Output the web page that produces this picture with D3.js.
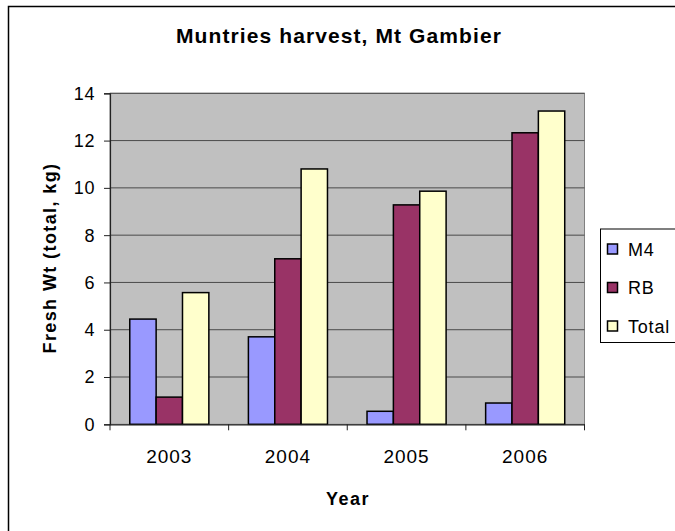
<!DOCTYPE html>
<html>
<head>
<meta charset="utf-8">
<script src="https://cdn.jsdelivr.net/npm/d3@7"></script>
<style>
  html, body { margin: 0; padding: 0; background: #fff; overflow: hidden; }
  svg { display: block; font-family: Arial, "Liberation Sans", sans-serif; }
</style>
</head>
<body>
<svg id="chart" width="675" height="531"></svg>
<script>
const years = ["2003", "2004", "2005", "2006"];
const seriesNames = ["M4", "RB", "Total"];
const m4Values = [4.45, 3.7, 0.55, 0.9];
const rbValues = [1.15, 7.0, 9.28, 12.33];
const totalValues = [5.57, 10.8, 9.86, 13.25];
const yTicks = [0, 2, 4, 6, 8, 10, 12, 14];
const titleText = "Muntries harvest, Mt Gambier";
const xTitle = "Year";
const yTitle = "Fresh Wt (total, kg)";
const seriesColors = ["#9999FF", "#993366", "#FFFFCC"];

const seriesValues = [m4Values, rbValues, totalValues];

const svg = d3.select("#chart");
const plot = { left: 110, right: 584.5, top: 93.3, bottom: 424.3 };

// outer chart border (extends past right/bottom edge)
svg.append("rect")
  .attr("x", 8.5).attr("y", 6.5)
  .attr("width", 700).attr("height", 560)
  .attr("fill", "#fff").attr("stroke", "#000").attr("stroke-width", 1.5);

const y = d3.scaleLinear().domain([0, 14]).range([plot.bottom, plot.top]);
const x0 = d3.scaleBand().domain(years).range([plot.left, plot.right])
  .paddingInner(1/3).paddingOuter(1/6);
const x1 = d3.scaleBand().domain(seriesNames).range([0, x0.bandwidth()]).padding(0);
const color = d3.scaleOrdinal().domain(seriesNames).range(seriesColors);

// plot area
svg.append("rect")
  .attr("x", plot.left).attr("y", plot.top)
  .attr("width", plot.right - plot.left).attr("height", plot.bottom - plot.top)
  .attr("fill", "#C0C0C0").attr("stroke", "#808080").attr("stroke-width", 1);

// gridlines
svg.append("g").selectAll("line").data(yTicks.filter(d => d > 0)).join("line")
  .attr("x1", plot.left).attr("x2", plot.right)
  .attr("y1", d => y(d)).attr("y2", d => y(d))
  .attr("stroke", "#4a4a4a").attr("stroke-width", 1);

// bars
const rows = years.map((yr, i) => ({ year: yr, values: seriesNames.map((s, j) => ({ key: s, value: seriesValues[j][i] })) }));
svg.append("g").selectAll("g").data(rows).join("g")
  .attr("transform", d => `translate(${x0(d.year)},0)`)
  .selectAll("rect").data(d => d.values).join("rect")
  .attr("x", d => x1(d.key))
  .attr("y", d => y(d.value))
  .attr("width", x1.bandwidth())
  .attr("height", d => y(0) - y(d.value))
  .attr("fill", d => color(d.key))
  .attr("stroke", "#000").attr("stroke-width", 1.5);

// y axis
const yAxis = svg.append("g")
  .attr("transform", `translate(${plot.left},0)`)
  .call(d3.axisLeft(y).tickValues(yTicks).tickSize(6).tickPadding(9).tickFormat(d3.format("d")));
yAxis.select(".domain").attr("stroke", "#222").attr("stroke-width", 1.2);
yAxis.selectAll(".tick line").attr("stroke", "#222");
yAxis.selectAll(".tick text")
  .attr("font-size", 18).attr("fill", "#000")
  .attr("font-family", "Arial, 'Liberation Sans', sans-serif")
  .style("letter-spacing", "0.6px")
  .attr("dy", "0.33em");

// x axis
const xAxis = svg.append("g")
  .attr("transform", `translate(0,${plot.bottom})`)
  .call(d3.axisBottom(x0).tickSize(0).tickPadding(39));
xAxis.select(".domain").attr("stroke", "#222").attr("stroke-width", 1.2);
xAxis.selectAll(".tick text")
  .attr("font-size", 19).attr("fill", "#000")
  .attr("font-family", "Arial, 'Liberation Sans', sans-serif")
  .style("letter-spacing", "1px")
  .attr("dy", 0);
// category boundary ticks
const bounds = d3.range(years.length + 1).map(i => plot.left + (plot.right - plot.left) * i / years.length);
xAxis.append("g").selectAll("line").data(bounds).join("line")
  .attr("x1", d => d).attr("x2", d => d)
  .attr("y1", 0).attr("y2", 6)
  .attr("stroke", "#222");

// title
svg.append("text")
  .attr("x", 339).attr("y", 43)
  .attr("text-anchor", "middle")
  .attr("font-size", 21).attr("font-weight", "bold")
  .style("letter-spacing", "1.1px")
  .text(titleText);

// axis titles
svg.append("text")
  .attr("x", 348).attr("y", 505)
  .attr("text-anchor", "middle")
  .attr("font-size", 18).attr("font-weight", "bold")
  .style("letter-spacing", "1.5px")
  .text(xTitle);

svg.append("text")
  .attr("transform", "translate(55.5,258) rotate(-90)")
  .attr("text-anchor", "middle")
  .attr("font-size", 18).attr("font-weight", "bold")
  .style("letter-spacing", "1.4px")
  .text(yTitle);

// legend
const legend = svg.append("g");
legend.append("rect")
  .attr("x", 600.5).attr("y", 229)
  .attr("width", 100).attr("height", 113.5)
  .attr("fill", "#fff").attr("stroke", "#000").attr("stroke-width", 1);
const legendY = d3.scalePoint().domain(seriesNames).range([249, 326]);
const items = legend.selectAll("g.item").data(seriesNames).join("g")
  .attr("class", "item")
  .attr("transform", d => `translate(0,${legendY(d)})`);
items.append("rect")
  .attr("x", 607.5).attr("y", -5)
  .attr("width", 10).attr("height", 10)
  .attr("fill", d => color(d)).attr("stroke", "#000").attr("stroke-width", 1.5);
items.append("text")
  .attr("x", 628).attr("y", 6.5)
  .attr("font-size", 18)
  .style("letter-spacing", "0.8px")
  .text(d => d);
</script>
</body>
</html>
